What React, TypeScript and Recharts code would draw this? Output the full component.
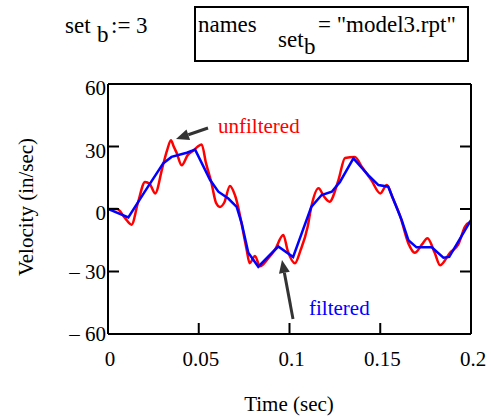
import React from 'react'
import { LineChart, Line, XAxis, YAxis } from 'recharts'

// unfiltered signal (red)
const redTime = [
  0, 0.005, 0.0095, 0.013, 0.0165, 0.0204, 0.023, 0.026, 0.03, 0.0325, 0.0347, 0.0362, 0.0378,
  0.0406, 0.044, 0.047, 0.0495, 0.0516, 0.054, 0.057, 0.0595, 0.0617, 0.064, 0.0672, 0.07, 0.0764,
  0.078, 0.081, 0.0837, 0.088, 0.092, 0.0966, 0.099, 0.103, 0.106, 0.11, 0.112, 0.116, 0.119,
  0.122, 0.127, 0.1306, 0.136, 0.14, 0.145, 0.15, 0.1536, 0.157, 0.161, 0.1655, 0.169, 0.173,
  0.176, 0.18, 0.183, 0.1884, 0.193, 0.1967, 0.2,
]
const redVel = [
  0, 0, -4.5, -7.5, 3, 13, 12, 7.5, 20, 28, 33, 30, 27,
  21, 26, 28, 30, 31, 22, 12.5, 3, 1, 3, 11, 6.5, -19.5,
  -26, -22.5, -27.5, -24, -19.5, -12.5, -20, -26, -20, -8.5, 1, 10, 6,
  3.5, 14, 24.5, 25, 20, 14, 7.5, 11.5, 5, -3.5, -16.5, -21, -17,
  -14, -21, -27, -21, -17, -8.5, -6,
]

// filtered signal (blue)
const blueTime = [
  0, 0.0112, 0.02, 0.0305, 0.035, 0.0434, 0.048, 0.0562, 0.0608, 0.0663, 0.0709, 0.0737, 0.0773,
  0.0828, 0.0938, 0.102, 0.112, 0.1177, 0.1233, 0.1278, 0.1352, 0.1434, 0.149, 0.1544, 0.1618,
  0.1655, 0.17, 0.1784, 0.1848, 0.188, 0.2,
]
const blueVel = [
  0, -4, 8, 22, 25, 27, 28.5, 14, 8.3, 5, 1, -7, -21,
  -27.7, -18, -23, 1, 6.7, 8.3, 13, 24.3, 16.3, 11.5, 10.7, -5.3,
  -15, -18.4, -18.4, -23.4, -23, -5.3,
]

const xTicks = [0, 0.05, 0.1, 0.15, 0.2]
const xTickLabels = ['0', '0.05', '0.1', '0.15', '0.2']
const yTicks = [-60, -30, 0, 30, 60]
const yTickLabels = ['\u2013 60', '\u2013 30', '0', '30', '60']

const unfiltered = redTime.map((t, i) => ({ t, v: redVel[i] }))
const filtered = blueTime.map((t, i) => ({ t, v: blueVel[i] }))

const FONT = "'Liberation Serif', 'Times New Roman', serif"
const TICK = 11

function LeftTick({ x, y, payload }: any) {
  const i = yTicks.indexOf(payload.value)
  return (
    <g>
      <line x1={x} y1={y} x2={x + TICK} y2={y} stroke="#000" strokeWidth={2} />
      <text x={x - 2} y={y + (payload.value >= 0 ? 11 : 7)} textAnchor="end" fontSize={21} fontFamily={FONT} fill="#000">
        {yTickLabels[i]}
      </text>
    </g>
  )
}

function RightTick({ x, y }: any) {
  return <line x1={x} y1={y} x2={x - TICK} y2={y} stroke="#000" strokeWidth={2} />
}

function BottomTick({ x, y, payload }: any) {
  const i = xTicks.indexOf(payload.value)
  return (
    <g>
      <line x1={x} y1={y} x2={x} y2={y - TICK} stroke="#000" strokeWidth={2} />
      <text x={x + 2} y={y + 32} textAnchor="middle" fontSize={21} fontFamily={FONT} fill="#000">
        {xTickLabels[i]}
      </text>
    </g>
  )
}

function TopTick({ x, y }: any) {
  return <line x1={x} y1={y} x2={x} y2={y + TICK} stroke="#000" strokeWidth={2} />
}

function Arrow({ from, to }: { from: [number, number]; to: [number, number] }) {
  const dx = to[0] - from[0]
  const dy = to[1] - from[1]
  const len = Math.hypot(dx, dy)
  const ux = dx / len
  const uy = dy / len
  const bx = to[0] - ux * 13
  const by = to[1] - uy * 13
  const px = -uy * 5.5
  const py = ux * 5.5
  return (
    <g>
      <line x1={from[0]} y1={from[1]} x2={bx} y2={by} stroke="#333" strokeWidth={3} />
      <polygon points={`${to[0]},${to[1]} ${bx + px},${by + py} ${bx - px},${by - py}`} fill="#333" />
    </g>
  )
}

export default function App() {
  const txt = { fontFamily: FONT, fill: '#000' }
  return (
    <div style={{ position: 'absolute', left: 0, top: 0, width: 491, height: 417, background: '#fff' }}>
      <LineChart
        width={491}
        height={417}
        margin={{ top: 83, right: 19, bottom: 53, left: 48 }}
      >
        <XAxis
          dataKey="t"
          type="number"
          domain={[0, 0.2]}
          ticks={xTicks}
          height={30}
          tickSize={0}
          tickMargin={0}
          tickLine={false}
          axisLine={{ stroke: '#000', strokeWidth: 2 }}
          tick={<BottomTick />}
          allowDataOverflow
        />
        <XAxis
          xAxisId="top"
          orientation="top"
          type="number"
          domain={[0, 0.2]}
          ticks={xTicks}
          height={1}
          tickSize={0}
          tickMargin={0}
          tickLine={false}
          axisLine={{ stroke: '#000', strokeWidth: 2 }}
          tick={<TopTick />}
          allowDataOverflow
        />
        <YAxis
          type="number"
          domain={[-60, 60]}
          ticks={yTicks}
          width={60}
          tickSize={0}
          tickMargin={0}
          tickLine={false}
          axisLine={{ stroke: '#000', strokeWidth: 2 }}
          tick={<LeftTick />}
          allowDataOverflow
        />
        <YAxis
          yAxisId="right"
          orientation="right"
          type="number"
          domain={[-60, 60]}
          ticks={yTicks}
          width={1}
          tickSize={0}
          tickMargin={0}
          tickLine={false}
          axisLine={{ stroke: '#000', strokeWidth: 2 }}
          tick={<RightTick />}
          allowDataOverflow
        />
        <Line
          data={unfiltered}
          dataKey="v"
          type="monotone"
          stroke="#ff0000"
          strokeWidth={2.5}
          dot={false}
          isAnimationActive={false}
        />
        <Line
          data={filtered}
          dataKey="v"
          type="linear"
          stroke="#0000ff"
          strokeWidth={2.5}
          dot={false}
          isAnimationActive={false}
        />
      </LineChart>
      <svg
        width={491}
        height={417}
        style={{ position: 'absolute', left: 0, top: 0, pointerEvents: 'none' }}
      >
        <text x={65} y={33} fontSize={23} {...txt}>set</text>
        <text x={97} y={42} fontSize={23} {...txt}>b</text>
        <text x={111} y={33} fontSize={23} {...txt}>:= 3</text>

        <rect x={195} y={7} width={273} height={54} fill="none" stroke="#000" strokeWidth={2} />
        <text x={198} y={32} fontSize={23} {...txt}>names</text>
        <text x={278} y={47} fontSize={23} {...txt}>set</text>
        <text x={304} y={54} fontSize={23} {...txt}>b</text>
        <text x={318} y={32} fontSize={23} {...txt}>= "model3.rpt"</text>

        <text x={218} y={133} fontSize={21} fontFamily={FONT} fill="#ff0000">unfiltered</text>
        <Arrow from={[208, 128]} to={[176, 139]} />
        <text x={309} y={315} fontSize={21} fontFamily={FONT} fill="#0000ff">filtered</text>
        <Arrow from={[293, 319]} to={[282, 260]} />

        <text x={289} y={411} fontSize={21} textAnchor="middle" {...txt}>Time (sec)</text>
        <text
          x={26}
          y={207}
          fontSize={21}
          textAnchor="middle"
          dominantBaseline="central"
          transform="rotate(-90 26 207)"
          {...txt}
        >
          Velocity (in/sec)
        </text>
      </svg>
    </div>
  )
}
